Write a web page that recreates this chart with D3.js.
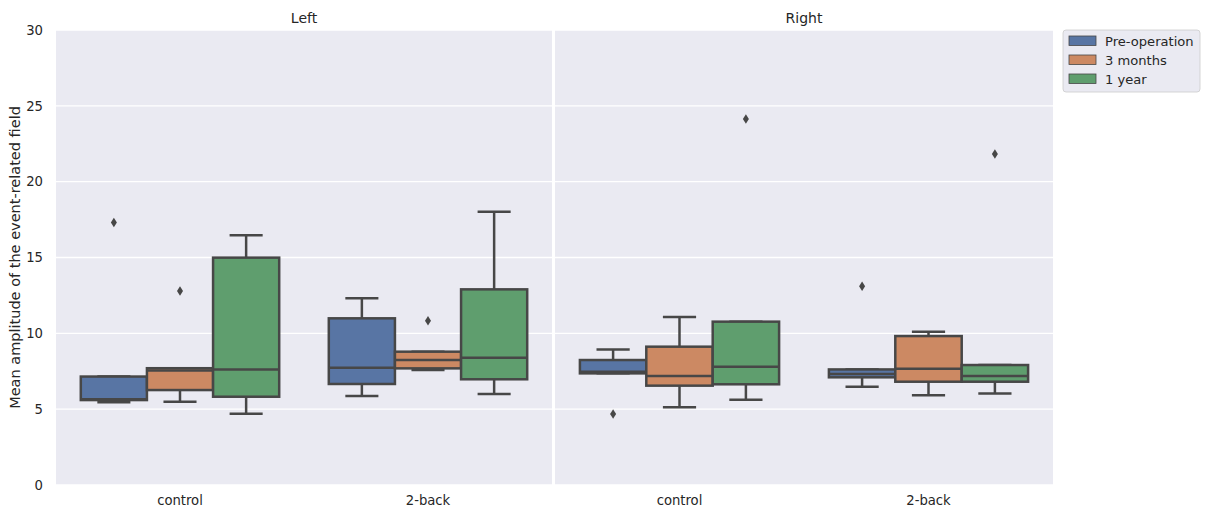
<!DOCTYPE html>
<html><head><meta charset="utf-8">
<script src="https://cdn.jsdelivr.net/npm/d3@7"></script>
<style>body{margin:0;background:#fff;}svg{display:block;font-family:"DejaVu Sans",sans-serif;}</style>
</head><body><svg id="c" width="1206" height="513"></svg>
<script>
const panels = ["Left", "Right"];
const categories = ["control", "2-back"];
const series = ["Pre-operation", "3 months", "1 year"];
const colors = ["#5875a4", "#cc8963", "#5f9e6e"];
const yTicks = [0, 5, 10, 15, 20, 25, 30];
// [whiskerLow, q1, median, q3, whiskerHigh]
const leftControl = [[5.45, 5.6, 5.65, 7.15, 7.15], [5.49, 6.26, 7.55, 7.7, 7.7], [4.7, 5.82, 7.62, 14.99, 16.46]];
const leftTwoBack = [[5.87, 6.66, 7.73, 10.99, 12.31], [7.58, 7.69, 8.24, 8.79, 8.79], [6.0, 6.97, 8.39, 12.9, 18.02]];
const rightControl = [[7.36, 7.36, 7.47, 8.24, 8.94], [5.12, 6.55, 7.19, 9.12, 11.07], [5.62, 6.64, 7.8, 10.77, 10.77]];
const rightTwoBack = [[6.48, 7.1, 7.32, 7.62, 7.62], [5.91, 6.81, 7.67, 9.82, 10.1], [6.04, 6.81, 7.19, 7.91, 7.91]];
const leftControlOutliers = [[17.3], [12.79], []];
const leftTwoBackOutliers = [[], [10.83], []];
const rightControlOutliers = [[4.68], [], [24.13]];
const rightTwoBackOutliers = [[13.1], [], [21.82]];

const boxes = {Left: [leftControl, leftTwoBack], Right: [rightControl, rightTwoBack]};
const outliers = {Left: [leftControlOutliers, leftTwoBackOutliers], Right: [rightControlOutliers, rightTwoBackOutliers]};

const svg = d3.select("#c");
const plotTop = 30, plotBottom = 485;
const panelX = [[56, 552], [555, 1053]];
const y = d3.scaleLinear().domain([0, 30]).range([plotBottom, plotTop]);
const lineC = "#474747";
const textC = "#262626";

panels.forEach((p, pi) => {
  const [x0, x1] = panelX[pi];
  const g = svg.append("g");
  g.append("rect").attr("x", x0).attr("y", plotTop).attr("width", x1 - x0).attr("height", plotBottom - plotTop).attr("fill", "#eaeaf2");
  g.selectAll("line.grid").data(yTicks).enter().append("line")
    .attr("x1", x0).attr("x2", x1).attr("y1", d => y(d)).attr("y2", d => y(d))
    .attr("stroke", "#fff").attr("stroke-width", 1.3);
  const x = d3.scaleBand().domain(categories).range([x0, x1]);
  const xs = d3.scaleBand().domain(series).range([0, x.bandwidth() * 0.8]);
  const xa = d3.axisBottom(x).tickSize(0).tickPadding(11);
  const ax = svg.append("g").attr("transform", `translate(0,${plotBottom})`).call(xa);
  ax.attr("font-size", null).attr("font-family", null);
  ax.select(".domain").remove();
  ax.selectAll("text").style("font-size", "13.2px").attr("fill", textC).style("font-family", "DejaVu Sans");
  svg.append("text").attr("x", (x0 + x1) / 2).attr("y", 23).attr("text-anchor", "middle")
    .style("font-size", "14px").attr("fill", textC).text(p);
  categories.forEach((c, ci) => {
    const base = x(c) + x.bandwidth() * 0.1;
    series.forEach((s, si) => {
      const [wl, q1, med, q3, wh] = boxes[p][ci][si];
      const bx = base + xs(s), bw = xs.bandwidth();
      const cx = bx + bw / 2;
      const bg = svg.append("g").attr("stroke", lineC).attr("stroke-width", 2.5).attr("fill", "none");
      bg.append("line").attr("x1", cx).attr("x2", cx).attr("y1", y(q1)).attr("y2", y(wl));
      bg.append("line").attr("x1", cx).attr("x2", cx).attr("y1", y(q3)).attr("y2", y(wh));
      bg.append("line").attr("x1", cx - bw / 4).attr("x2", cx + bw / 4).attr("y1", y(wl)).attr("y2", y(wl));
      bg.append("line").attr("x1", cx - bw / 4).attr("x2", cx + bw / 4).attr("y1", y(wh)).attr("y2", y(wh));
      bg.append("rect").attr("x", bx).attr("y", y(q3)).attr("width", bw).attr("height", y(q1) - y(q3))
        .attr("fill", colors[si]);
      bg.append("line").attr("x1", bx).attr("x2", bx + bw).attr("y1", y(med)).attr("y2", y(med));
      outliers[p][ci][si].forEach(v => {
        svg.append("path").attr("d", d3.symbol(d3.symbolDiamond, 26)())
          .attr("transform", `translate(${cx},${y(v)}) scale(1.1,1)`).attr("fill", lineC);
      });
    });
  });
});

const ya = d3.axisLeft(y).tickValues(yTicks).tickSize(0).tickPadding(13);
const yg = svg.append("g").attr("transform", `translate(${panelX[0][0]},0)`).call(ya);
yg.attr("font-size", null).attr("font-family", null);
yg.select(".domain").remove();
yg.selectAll("text").style("font-size", "13.2px").attr("fill", textC).style("font-family", "DejaVu Sans");
svg.append("text").attr("transform", `translate(20,${(plotTop + plotBottom) / 2 + 0}) rotate(-90)`)
  .attr("text-anchor", "middle").style("font-size", "14.5px").attr("fill", textC)
  .text("Mean amplitude of the event-related field");

const lg = svg.append("g");
lg.append("rect").attr("x", 1063).attr("y", 30).attr("width", 137).attr("height", 62).attr("rx", 3)
  .attr("fill", "#eaeaf2").attr("stroke", "#cccccc").attr("stroke-width", 0.8);
series.forEach((s, i) => {
  const yy = 41 + i * 19;
  lg.append("rect").attr("x", 1069).attr("y", yy - 5).attr("width", 27).attr("height", 9.5)
    .attr("fill", colors[i]).attr("stroke", lineC).attr("stroke-width", 0.8);
  lg.append("text").attr("x", 1105).attr("y", yy + 4.8).style("font-size", "13.1px").attr("fill", textC).text(s);
});
</script></body></html>
